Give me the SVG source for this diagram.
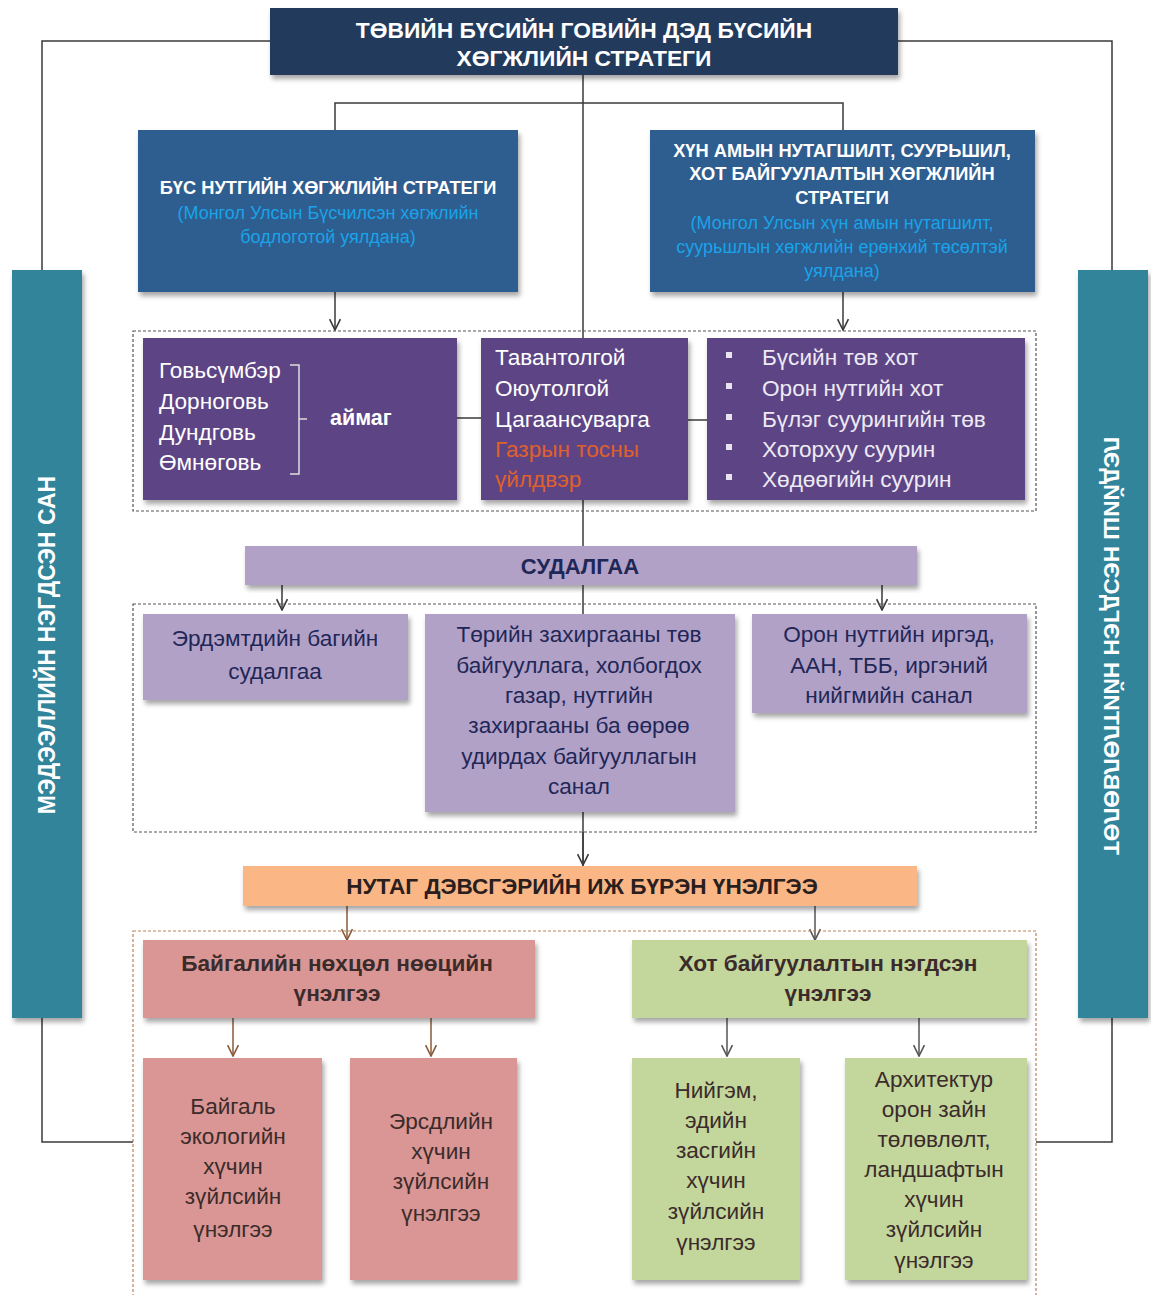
<svg xmlns="http://www.w3.org/2000/svg" width="1151" height="1295" viewBox="0 0 1151 1295">
<style>
  text { font-family: "Liberation Sans", Arial, sans-serif; }
  .w { fill: #ffffff; }
  .wb { fill: #ffffff; font-weight: bold; }
  .sub { fill: #1aa3e8; }
  .dk { fill: #1f2757; }
  .br { fill: #3b2b2b; }
  .c { text-anchor: middle; }
  .ln { fill: none; stroke: #3a3a3a; stroke-width: 1.5; }
  .dash { fill: none; stroke: #555; stroke-width: 1.2; stroke-dasharray: 3 2; }
  .dash2 { fill: none; stroke: #b5835f; stroke-width: 1.2; stroke-dasharray: 3 2; }
  .navy { fill: #213b5d; }
  .blue { fill: #2f5d8f; }
  .teal { fill: #31849b; }
  .purp { fill: #5d4585; }
  .lav { fill: #b2a1c7; }
  .org { fill: #fab785; }
  .pink { fill: #d99694; }
  .grn { fill: #c3d69b; }
</style>
<defs>
  <filter id="sh" x="-5%" y="-5%" width="115%" height="125%">
    <feDropShadow dx="2" dy="4" stdDeviation="2.5" flood-color="#000" flood-opacity="0.35"/>
  </filter>
  <marker id="ar" viewBox="0 0 12 12" refX="11" refY="6" markerWidth="13" markerHeight="13" markerUnits="userSpaceOnUse" orient="auto">
    <path d="M1,1 L11,6 L1,11" fill="none" stroke="#3a3a3a" stroke-width="1.5"/>
  </marker>
  <marker id="arb" viewBox="0 0 12 12" refX="11" refY="6" markerWidth="13" markerHeight="13" markerUnits="userSpaceOnUse" orient="auto">
    <path d="M1,1 L11,6 L1,11" fill="none" stroke="#8a5a3a" stroke-width="1.5"/>
  </marker>
  <marker id="arg" viewBox="0 0 12 12" refX="11" refY="6" markerWidth="13" markerHeight="13" markerUnits="userSpaceOnUse" orient="auto">
    <path d="M1,1 L11,6 L1,11" fill="none" stroke="#555" stroke-width="1.5"/>
  </marker>
</defs>
<rect width="1151" height="1295" fill="#ffffff"/>

<g id="connectors">
  <path class="ln" d="M270,41 H42 V270"/>
  <path class="ln" d="M42,1018 V1142 H133"/>
  <path class="ln" d="M898,41 H1112 V270"/>
  <path class="ln" d="M1112,1018 V1142 H1036"/>
  <path class="ln" d="M583,75 V866"/>
  <path class="ln" d="M335,130 V103 H843 V130"/>
  <path class="ln" d="M335,292 V330" marker-end="url(#ar)"/>
  <path class="ln" d="M843,292 V330" marker-end="url(#ar)"/>
  <path class="ln" d="M457,418 H481"/>
  <path class="ln" d="M688,420 H707"/>
  <path class="ln" d="M282,585 V610" marker-end="url(#ar)"/>
  <path class="ln" d="M882,585 V610" marker-end="url(#ar)"/>
  <path class="ln" d="M583,832 V865" marker-end="url(#ar)"/>
  <path class="ln" d="M347,906 V940" style="stroke:#8a5a3a" marker-end="url(#arb)"/>
  <path class="ln" d="M815,906 V940" style="stroke:#555" marker-end="url(#arg)"/>
  <path class="ln" d="M233,1018 V1056" style="stroke:#8a5a3a" marker-end="url(#arb)"/>
  <path class="ln" d="M431,1018 V1056" style="stroke:#8a5a3a" marker-end="url(#arb)"/>
  <path class="ln" d="M727,1018 V1056" style="stroke:#555" marker-end="url(#arg)"/>
  <path class="ln" d="M919,1018 V1056" style="stroke:#555" marker-end="url(#arg)"/>
</g>

<g id="containers">
  <rect class="dash" x="133" y="331" width="903" height="180"/>
  <rect class="dash" x="133" y="604" width="903" height="228"/>
  <rect class="dash2" x="133" y="931" width="903" height="380"/>
</g>

<g id="n-top">
  <rect class="navy" x="270" y="8" width="628" height="67" filter="url(#sh)"/>
  <text class="wb c" x="584" y="38" font-size="22.8">ТӨВИЙН БҮСИЙН ГОВИЙН ДЭД БҮСИЙН</text>
  <text class="wb c" x="584" y="66" font-size="22.8">ХӨГЖЛИЙН СТРАТЕГИ</text>
</g>

<g id="n-left-bar">
  <rect class="teal" x="12" y="270" width="70" height="748" filter="url(#sh)"/>
  <text class="wb c" font-size="23" transform="translate(55,645) rotate(-90)">МЭДЭЭЛЛИЙН  НЭГДСЭН  САН</text>
</g>

<g id="n-right-bar">
  <rect class="teal" x="1078" y="270" width="70" height="748" filter="url(#sh)"/>
  <text class="wb c" font-size="22.7" transform="translate(1104,646) rotate(-90) scale(1,-1)">ТӨЛӨВЛӨЛТИЙН  НЭГДСЭН  ШИЙДЭЛ</text>
</g>

<g id="n-bus">
  <rect class="blue" x="138" y="130" width="380" height="162" filter="url(#sh)"/>
  <text class="wb c" x="328" y="194" font-size="18.3">БҮС НУТГИЙН ХӨГЖЛИЙН СТРАТЕГИ</text>
  <text class="sub c" x="328" y="219" font-size="18">(Монгол Улсын Бүсчилсэн хөгжлийн</text>
  <text class="sub c" x="328" y="243" font-size="18">бодлоготой уялдана)</text>
</g>

<g id="n-hun">
  <rect class="blue" x="650" y="130" width="385" height="162" filter="url(#sh)"/>
  <text class="wb c" x="842" y="157" font-size="18.3">ХҮН АМЫН НУТАГШИЛТ, СУУРЬШИЛ,</text>
  <text class="wb c" x="842" y="180" font-size="18.3">ХОТ БАЙГУУЛАЛТЫН ХӨГЖЛИЙН</text>
  <text class="wb c" x="842" y="204" font-size="18.3">СТРАТЕГИ</text>
  <text class="sub c" x="842" y="229" font-size="18">(Монгол Улсын хүн амын нутагшилт,</text>
  <text class="sub c" x="842" y="253" font-size="18">суурьшлын хөгжлийн ерөнхий төсөлтэй</text>
  <text class="sub c" x="842" y="277" font-size="18">уялдана)</text>
</g>

<g id="n-aimag">
  <rect class="purp" x="143" y="338" width="314" height="162" filter="url(#sh)"/>
  <g class="w" font-size="22.6">
    <text x="159" y="378">Говьсүмбэр</text>
    <text x="159" y="409">Дорноговь</text>
    <text x="159" y="440">Дундговь</text>
    <text x="159" y="470">Өмнөговь</text>
  </g>
  <path d="M290,365 H299 V474 H290 M299,419 H307" fill="none" stroke="#ddd" stroke-width="1.5"/>
  <text class="wb" x="330" y="425" font-size="21.5">аймаг</text>
</g>

<g id="n-mines">
  <rect class="purp" x="481" y="338" width="207" height="162" filter="url(#sh)"/>
  <g font-size="22.6">
    <text class="w" x="495" y="365">Тавантолгой</text>
    <text class="w" x="495" y="396">Оюутолгой</text>
    <text class="w" x="495" y="427">Цагаансуварга</text>
    <text x="495" y="457" fill="#e0602a">Газрын тосны</text>
    <text x="495" y="487" fill="#e0602a">үйлдвэр</text>
  </g>
</g>

<g id="n-settle">
  <rect class="purp" x="707" y="338" width="318" height="162" filter="url(#sh)"/>
  <g fill="#e8e4ef">
    <rect x="726" y="352" width="6" height="6"/>
    <rect x="726" y="383" width="6" height="6"/>
    <rect x="726" y="414" width="6" height="6"/>
    <rect x="726" y="444" width="6" height="6"/>
    <rect x="726" y="474" width="6" height="6"/>
  </g>
  <g font-size="22.6" fill="#eeeaf4">
    <text x="762" y="365">Бүсийн төв хот</text>
    <text x="762" y="396">Орон нутгийн хот</text>
    <text x="762" y="427">Бүлэг суурингийн төв</text>
    <text x="762" y="457">Хоторхуу суурин</text>
    <text x="762" y="487">Хөдөөгийн суурин</text>
  </g>
</g>

<g id="n-research">
  <rect class="lav" x="245" y="546" width="672" height="39" filter="url(#sh)"/>
  <text class="dk c" x="580" y="574" font-size="22" font-weight="bold">СУДАЛГАА</text>
</g>

<g id="n-scholars">
  <rect class="lav" x="143" y="614" width="265" height="86" filter="url(#sh)"/>
  <g class="dk c" font-size="22.6">
    <text x="275" y="646">Эрдэмтдийн багийн</text>
    <text x="275" y="679">судалгаа</text>
  </g>
</g>

<g id="n-gov">
  <rect class="lav" x="425" y="614" width="310" height="198" filter="url(#sh)"/>
  <g class="dk c" font-size="22.6">
    <text x="579" y="642">Төрийн захиргааны төв</text>
    <text x="579" y="673">байгууллага, холбогдох</text>
    <text x="579" y="703">газар, нутгийн</text>
    <text x="579" y="733">захиргааны ба өөрөө</text>
    <text x="579" y="764">удирдах байгууллагын</text>
    <text x="579" y="794">санал</text>
  </g>
</g>

<g id="n-citizens">
  <rect class="lav" x="752" y="614" width="275" height="99" filter="url(#sh)"/>
  <g class="dk c" font-size="22.6">
    <text x="889" y="642">Орон нутгийн иргэд,</text>
    <text x="889" y="673">ААН, ТББ, иргэний</text>
    <text x="889" y="703">нийгмийн  санал</text>
  </g>
</g>

<g id="n-assess">
  <rect class="org" x="243" y="866" width="674" height="40" filter="url(#sh)"/>
  <text x="582" y="894" class="c" font-size="22.6" font-weight="bold" fill="#2a1e1e">НУТАГ ДЭВСГЭРИЙН  ИЖ БҮРЭН  ҮНЭЛГЭЭ</text>
</g>

<g id="n-nature">
  <rect class="pink" x="143" y="940" width="392" height="78" filter="url(#sh)"/>
  <g class="br c" font-size="22.6" font-weight="bold">
    <text x="337" y="971">Байгалийн  нөхцөл нөөцийн</text>
    <text x="337" y="1001">үнэлгээ</text>
  </g>
</g>

<g id="n-urban">
  <rect class="grn" x="632" y="940" width="395" height="78" filter="url(#sh)"/>
  <g class="br c" font-size="22.6" font-weight="bold">
    <text x="828" y="971">Хот байгуулалтын   нэгдсэн</text>
    <text x="828" y="1001">үнэлгээ</text>
  </g>
</g>

<g id="n-eco">
  <rect class="pink" x="143" y="1058" width="179" height="222" filter="url(#sh)"/>
  <g class="br c" font-size="22.6">
    <text x="233" y="1114">Байгаль</text>
    <text x="233" y="1144">экологийн</text>
    <text x="233" y="1174">хүчин</text>
    <text x="233" y="1204">зүйлсийн</text>
    <text x="233" y="1237">үнэлгээ</text>
  </g>
</g>

<g id="n-risk">
  <rect class="pink" x="350" y="1058" width="167" height="222" filter="url(#sh)"/>
  <g class="br c" font-size="22.6">
    <text x="441" y="1129">Эрсдлийн</text>
    <text x="441" y="1159">хүчин</text>
    <text x="441" y="1189">зүйлсийн</text>
    <text x="441" y="1221">үнэлгээ</text>
  </g>
</g>

<g id="n-socio">
  <rect class="grn" x="632" y="1058" width="168" height="222" filter="url(#sh)"/>
  <g class="br c" font-size="22.6">
    <text x="716" y="1098">Нийгэм,</text>
    <text x="716" y="1128">эдийн</text>
    <text x="716" y="1158">засгийн</text>
    <text x="716" y="1188">хүчин</text>
    <text x="716" y="1219">зүйлсийн</text>
    <text x="716" y="1250">үнэлгээ</text>
  </g>
</g>

<g id="n-arch">
  <rect class="grn" x="845" y="1058" width="182" height="222" filter="url(#sh)"/>
  <g class="br c" font-size="22.6">
    <text x="934" y="1087">Архитектур</text>
    <text x="934" y="1117">орон зайн</text>
    <text x="934" y="1147">төлөвлөлт,</text>
    <text x="934" y="1177">ландшафтын</text>
    <text x="934" y="1207">хүчин</text>
    <text x="934" y="1237">зүйлсийн</text>
    <text x="934" y="1268">үнэлгээ</text>
  </g>
</g>
</svg>
